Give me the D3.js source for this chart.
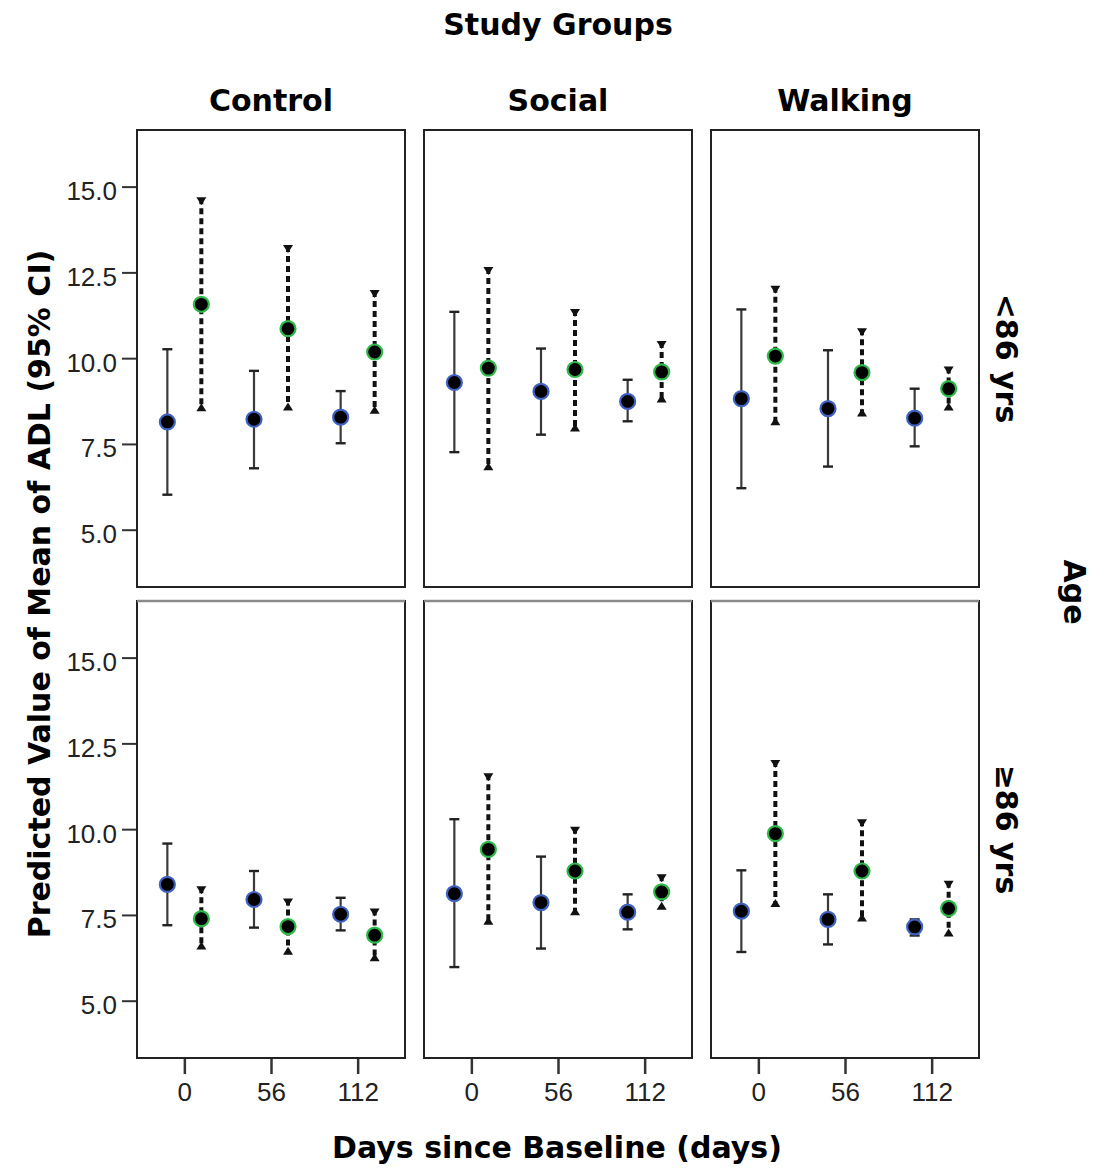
<!DOCTYPE html>
<html><head><meta charset="utf-8">
<script src="https://cdn.jsdelivr.net/npm/d3@7"></script>
<style>body{margin:0;background:#fff} svg{display:block}</style>
</head><body><svg id="c" width="1104" height="1168"></svg>
<script>
// ---------- data ----------
const groups = ["Control", "Social", "Walking"];
const ageGroups = ["<86 yrs", "\u226586 yrs"];
const days = [0, 56, 112];
const yTicks = [5.0, 7.5, 10.0, 12.5, 15.0];
const series = ["A", "B"];
// values indexed [ageRow][group][dayIndex]
const meanA = [[[8.14, 8.22, 8.28], [9.29, 9.03, 8.74], [8.82, 8.53, 8.25]],
               [[8.39, 7.95, 7.52], [8.12, 7.86, 7.58], [7.61, 7.37, 7.15]]];
const lowA  = [[[6.02, 6.79, 7.52], [7.26, 7.77, 8.16], [6.21, 6.84, 7.43]],
               [[7.20, 7.13, 7.05], [5.98, 6.52, 7.08], [6.42, 6.64, 6.90]]];
const highA = [[[10.26, 9.63, 9.04], [11.35, 10.28, 9.37], [11.42, 10.23, 9.11]],
               [[9.58, 8.78, 8.00], [10.29, 9.20, 8.10], [8.80, 8.10, 7.37]]];
const meanB = [[[11.57, 10.86, 10.18], [9.71, 9.67, 9.60], [10.06, 9.58, 9.11]],
               [[7.39, 7.16, 6.91], [9.41, 8.78, 8.17], [9.87, 8.78, 7.69]]];
const lowB  = [[[8.48, 8.50, 8.41], [6.76, 7.89, 8.74], [8.07, 8.33, 8.50]],
               [[6.52, 6.37, 6.18], [7.24, 7.52, 7.68], [7.76, 7.34, 6.90]]];
const highB = [[[14.66, 13.27, 11.96], [12.63, 11.40, 10.47], [12.08, 10.84, 9.73]],
               [[8.31, 7.95, 7.66], [11.60, 10.04, 8.66], [11.99, 10.26, 8.47]]];

// ---------- layout ----------
const svg = d3.select("#c");
svg.append("rect").attr("width", 1104).attr("height", 1168).attr("fill", "#fff");
const W = 268, H = 457;
const colX = [137, 424, 711];
const rowY = [130, 601];
const titleFont = "'DejaVu Sans', sans-serif";
const tickFont = "'Liberation Sans', Arial, sans-serif";

const x = d3.scaleLinear().domain([-30.6, 142.6]).range([0, W]);
const y = d3.scaleLinear().domain([3.33, 16.65]).range([H, 0]);
const dodge = d3.scalePoint().domain(series).range([-17, 17]);
const ringColor = {A: "#3f62c0", B: "#2fb84a"};

function panelData(r, c) {
  const out = [];
  days.forEach((d, i) => {
    out.push({s: "A", day: d, m: meanA[r][c][i], lo: lowA[r][c][i], hi: highA[r][c][i]});
    out.push({s: "B", day: d, m: meanB[r][c][i], lo: lowB[r][c][i], hi: highB[r][c][i]});
  });
  return out;
}

ageGroups.forEach((age, r) => {
  groups.forEach((grp, c) => {
    const g = svg.append("g").attr("transform", `translate(${colX[c]},${rowY[r]})`);
    // frame
    g.append("rect").attr("x", 0).attr("y", 0).attr("width", W).attr("height", H)
      .attr("fill", "#fff").attr("stroke", "#222").attr("stroke-width", 2);
    if (r === 1) {
      g.append("line").attr("x1", 0).attr("x2", W).attr("y1", 0).attr("y2", 0)
        .attr("stroke", "#8a8a8a").attr("stroke-width", 2.5);
    }
    const data = panelData(r, c);
    const px = d => x(d.day) + dodge(d.s);

    // series A: solid whiskers with flat caps
    const A = data.filter(d => d.s === "A");
    g.selectAll(".wa").data(A).join("line")
      .attr("x1", px).attr("x2", px).attr("y1", d => y(d.lo)).attr("y2", d => y(d.hi))
      .attr("stroke", "#3a3a3a").attr("stroke-width", 2.2);
    ["lo", "hi"].forEach(k => {
      g.selectAll(".ca" + k).data(A).join("line")
        .attr("x1", d => px(d) - 5).attr("x2", d => px(d) + 5)
        .attr("y1", d => y(d[k])).attr("y2", d => y(d[k]))
        .attr("stroke", "#222").attr("stroke-width", 2.4);
    });

    // series B: dashed whiskers with triangle caps
    const B = data.filter(d => d.s === "B");
    g.selectAll(".wb").data(B).join("line")
      .attr("x1", px).attr("x2", px).attr("y1", d => y(d.hi)).attr("y2", d => y(d.lo))
      .attr("stroke", "#111").attr("stroke-width", 4).attr("stroke-dasharray", "6,4");
    g.selectAll(".tb-hi").data(B).join("path")
      .attr("d", d => { const cx = px(d), cy = y(d.hi); return `M${cx-5},${cy-1}L${cx+5},${cy-1}L${cx},${cy+7}Z`; })
      .attr("fill", "#111");
    g.selectAll(".tb-lo").data(B).join("path")
      .attr("d", d => { const cx = px(d), cy = y(d.lo); return `M${cx-5},${cy+1}L${cx+5},${cy+1}L${cx},${cy-7}Z`; })
      .attr("fill", "#111");

    // markers
    g.selectAll(".mk").data(data).join("circle")
      .attr("cx", px).attr("cy", d => y(d.m)).attr("r", 7.5)
      .attr("fill", "#000").attr("stroke", d => ringColor[d.s]).attr("stroke-width", 2.2);

    // axes
    if (c === 0) {
      const ay = g.append("g").call(d3.axisLeft(y).tickValues(yTicks)
        .tickFormat(d3.format(".1f")).tickSize(15).tickPadding(5));
      ay.select(".domain").remove();
      ay.selectAll("line").attr("stroke", "#333").attr("stroke-width", 2).attr("x2", -15).attr("x1", -1);
      ay.selectAll("text").attr("font-family", tickFont).attr("font-size", 26)
        .attr("fill", "#222").attr("dy", "0.5em");
    }
    if (r === 1) {
      const ax = g.append("g").attr("transform", `translate(0,${H})`)
        .call(d3.axisBottom(x).tickValues(days).tickFormat(d3.format("d")).tickSize(16).tickPadding(9));
      ax.select(".domain").remove();
      ax.selectAll("line").attr("stroke", "#333").attr("stroke-width", 2.5).attr("y1", 1);
      ax.selectAll("text").attr("font-family", tickFont).attr("font-size", 26).attr("fill", "#222");
    }
    // column headers
    if (r === 0) {
      svg.append("text").attr("x", colX[c] + W / 2).attr("y", 111)
        .attr("text-anchor", "middle").attr("font-family", titleFont).attr("font-weight", "bold")
        .attr("font-size", 30).attr("fill", "#000").text(grp);
    }
    // row labels
    if (c === 2) {
      const cy = rowY[r] + H / 2;
      svg.append("text").attr("transform", `translate(996,${cy}) rotate(90)`)
        .attr("text-anchor", "middle").attr("font-family", titleFont).attr("font-weight", "bold")
        .attr("font-size", 30).attr("fill", "#000").text(age);
    }
  });
});

// titles
svg.append("text").attr("x", 558).attr("y", 35).attr("text-anchor", "middle")
  .attr("font-family", titleFont).attr("font-weight", "bold").attr("font-size", 30).text("Study Groups");
svg.append("text").attr("x", 557).attr("y", 1158).attr("text-anchor", "middle")
  .attr("font-family", titleFont).attr("font-weight", "bold").attr("font-size", 30).text("Days since Baseline (days)");
svg.append("text").attr("transform", "translate(50,594) rotate(-90)").attr("text-anchor", "middle")
  .attr("font-family", titleFont).attr("font-weight", "bold").attr("font-size", 30)
  .text("Predicted Value of Mean of ADL (95% CI)");
svg.append("text").attr("transform", "translate(1064,592) rotate(90)").attr("text-anchor", "middle")
  .attr("font-family", titleFont).attr("font-weight", "bold").attr("font-size", 30).text("Age");
</script></body></html>
